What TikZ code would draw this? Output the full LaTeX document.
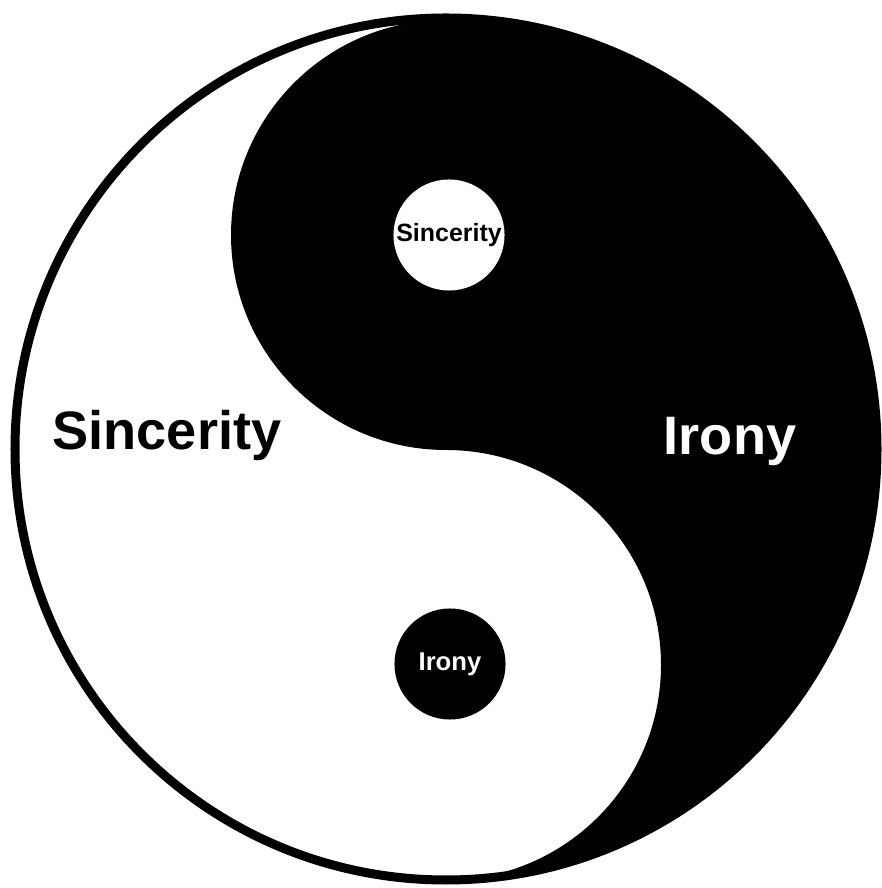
\documentclass[tikz,border=0pt]{standalone}
\usepackage{fontspec}
\setmainfont{Liberation Sans}
\begin{document}
\begin{tikzpicture}[x=0.01cm,y=0.01cm,
  bigtxt/.style={font=\fontsize{15.4pt}{18pt}\selectfont\bfseries, anchor=base, inner sep=0pt},
  dot/.style={circle, minimum size=1.11cm, inner sep=0pt, font=\fontsize{7.1pt}{8pt}\selectfont\bfseries}]
\useasboundingbox (0,0) rectangle (881,888);
\fill[white] (0,0) rectangle (881,888);
% outer disc
\fill[white] (446,439) circle (431);
% black region
\fill[black] (446,870) arc[start angle=90, end angle=-90, radius=431]
  arc[start angle=-90, end angle=90, radius=215]
  arc[start angle=-90, end angle=-270, radius=215] -- cycle;
\draw[line width=0.09cm] (446,439) circle (431);
% dots
\node[dot, fill=white, text=black] (sdot) at (449,653) {Sincerity};
\node[dot, fill=black, text=white, font=\fontsize{7.3pt}{8pt}\selectfont\bfseries] (idot) at (450,224) {Irony};
% labels
\node[bigtxt, text=black] (sinc) at (167,438) {Sincerity};
\node[bigtxt, text=white] (iron) at (730,433) {Irony};
\end{tikzpicture}
\end{document}
